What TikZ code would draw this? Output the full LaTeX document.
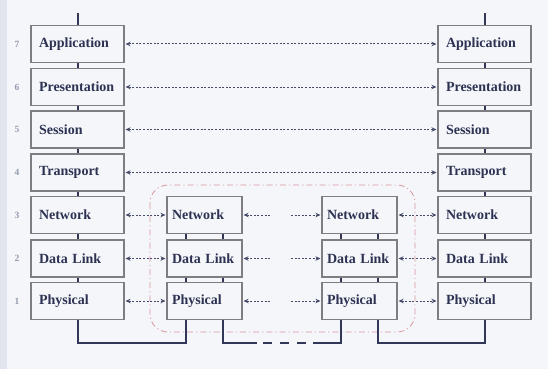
\documentclass[tikz,border=0pt]{standalone}
\usepackage{fontspec}
\setmainfont{Liberation Serif}
\usetikzlibrary{arrows.meta}
\definecolor{bgc}{RGB}{244,246,250}
\definecolor{stripc}{RGB}{226,229,237}
\definecolor{boxc}{RGB}{125,125,130}
\definecolor{txtc}{RGB}{45,50,82}
\definecolor{connc}{RGB}{50,55,88}
\definecolor{arrc}{RGB}{70,75,105}
\definecolor{numc}{RGB}{150,155,175}
\definecolor{redc}{RGB}{218,150,160}
\begin{document}
\begin{tikzpicture}[x=1pt,y=-1pt,
  layerbox/.style={draw=boxc, line width=1.1pt, fill=bgc, minimum height=37pt,
    text=txtc, font=\bfseries\fontsize{14}{16}\selectfont, align=left},
  widebox/.style={layerbox, text width=77pt, inner xsep=8pt},
  narrowbox/.style={layerbox, text width=65pt, inner xsep=5pt},
  conn/.style={draw=connc, line width=2pt},
  arr/.style={draw=arrc, line width=1pt, dash pattern=on 2pt off 1.6pt,
    arrows={Stealth[length=5pt,width=4.5pt]-Stealth[length=5pt,width=4.5pt]},
    shorten <=1pt, shorten >=1pt},
  larr/.style={arr, arrows={Stealth[length=5pt,width=4.5pt]-}},
  rarr/.style={arr, arrows={-Stealth[length=5pt,width=4.5pt]}},
  num/.style={text=numc, font=\bfseries\fontsize{9.5}{10}\selectfont},
  zone/.style={draw=redc, line width=0.8pt, dash pattern=on 6pt off 3pt on 1.2pt off 3pt, rounded corners=18pt}
]
\useasboundingbox (0,0) rectangle (548,369);
\fill[bgc] (0,0) rectangle (548,369);
\fill[stripc] (0,0) rectangle (7,369);

% dashed zone
\draw[zone] (150,185) rectangle (415,332);

% layer numbers
\node[num] (n7) at (17,44) {7};
\node[num] (n6) at (17,87) {6};
\node[num] (n5) at (17,129.5) {5};
\node[num] (n4) at (17,172.5) {4};
\node[num] (n3) at (17,215) {3};
\node[num] (n2) at (17,258.5) {2};
\node[num] (n1) at (17,301) {1};

% left stack
\node[widebox] (L7) at (77.5,44) {Application};
\node[widebox] (L6) at (77.5,87) {Presentation};
\node[widebox] (L5) at (77.5,129.5) {Session};
\node[widebox] (L4) at (77.5,172.5) {Transport};
\node[widebox] (L3) at (77.5,215) {Network};
\node[widebox] (L2) at (77.5,258.5) {Data Link};
\node[widebox] (L1) at (77.5,301) {Physical};

% right stack
\node[widebox] (R7) at (484.5,44) {Application};
\node[widebox] (R6) at (484.5,87) {Presentation};
\node[widebox] (R5) at (484.5,129.5) {Session};
\node[widebox] (R4) at (484.5,172.5) {Transport};
\node[widebox] (R3) at (484.5,215) {Network};
\node[widebox] (R2) at (484.5,258.5) {Data Link};
\node[widebox] (R1) at (484.5,301) {Physical};

% middle-left router
\node[narrowbox] (M3) at (204.5,215) {Network};
\node[narrowbox] (M2) at (204.5,258.5) {Data Link};
\node[narrowbox] (M1) at (204.5,301) {Physical};

% middle-right router
\node[narrowbox] (N3) at (359.5,215) {Network};
\node[narrowbox] (N2) at (359.5,258.5) {Data Link};
\node[narrowbox] (N1) at (359.5,301) {Physical};

% vertical stack connectors
\coordinate (Ltop) at (77.5,13);
\coordinate (Rtop) at (484.5,13);
\draw[conn] (Ltop) -- (L7.north);
\draw[conn] (Rtop) -- (R7.north);
\foreach \a/\b in {7/6,6/5,5/4,4/3,3/2,2/1}{
  \draw[conn] (L\a.south) -- (L\b.north);
  \draw[conn] (R\a.south) -- (R\b.north);
}
\foreach \a/\b in {3/2,2/1}{
  \draw[conn] ([xshift=-18.5pt]M\a.south) -- ([xshift=-18.5pt]M\b.north);
  \draw[conn] ([xshift=18.5pt]M\a.south) -- ([xshift=18.5pt]M\b.north);
  \draw[conn] ([xshift=-18.5pt]N\a.south) -- ([xshift=-18.5pt]N\b.north);
  \draw[conn] ([xshift=18.5pt]N\a.south) -- ([xshift=18.5pt]N\b.north);
}

% bottom links
\coordinate (bot) at (0,343);
\coordinate (MlegL) at ([xshift=-18.5pt]M1.south);
\coordinate (MlegR) at ([xshift=18.5pt]M1.south);
\coordinate (NlegL) at ([xshift=-18.5pt]N1.south);
\coordinate (NlegR) at ([xshift=18.5pt]N1.south);
\coordinate (d1) at (257,343);
\coordinate (d2) at (313,343);
\coordinate (e1) at (263,343);
\coordinate (e2) at (307,343);
\draw[conn] (L1.south) |- (MlegL |- bot) -- (MlegL);
\draw[conn] (MlegR) |- (d1);
\draw[conn, dash pattern=on 9pt off 8pt] (e1) -- (e2);
\draw[conn] (d2) -| (NlegL);
\draw[conn] (NlegR) |- (R1.south |- bot) -- (R1.south);

% peer arrows, upper layers
\draw[arr] (L7.east) -- (R7.west);
\draw[arr] (L6.east) -- (R6.west);
\draw[arr] (L5.east) -- (R5.west);
\draw[arr] (L4.east) -- (R4.west);

% lower layers
\foreach \k/\y in {3/215,2/258.5,1/301}{
  \coordinate (ga\k) at (272,\y);
  \coordinate (gb\k) at (290,\y);
  \draw[arr] (L\k.east) -- (M\k.west);
  \draw[larr] (M\k.east) -- (ga\k);
  \draw[rarr] (gb\k) -- (N\k.west);
  \draw[arr] (N\k.east) -- (R\k.west);
}
\end{tikzpicture}
\end{document}
